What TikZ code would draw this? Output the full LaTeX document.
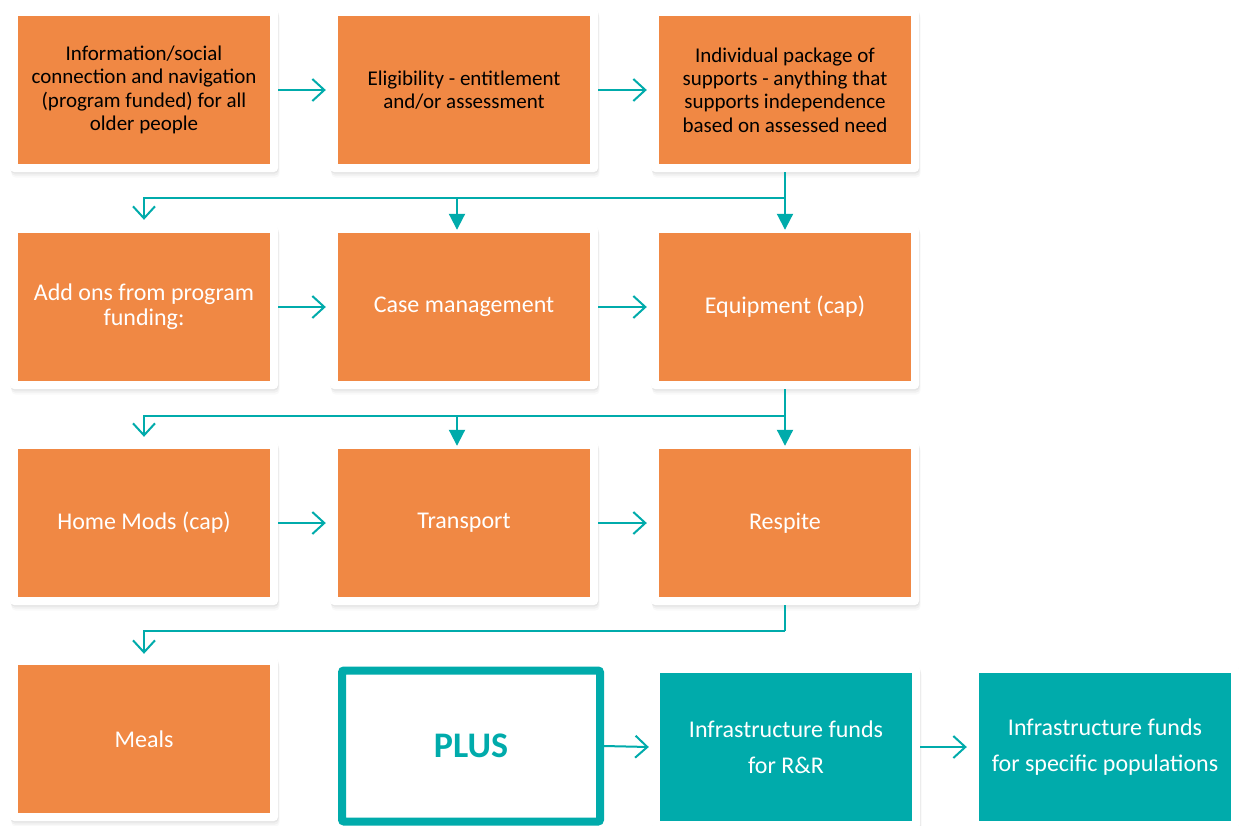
\documentclass[tikz,border=0pt]{standalone}
\usepackage{fontspec}
\setmainfont{Carlito}
\usetikzlibrary{arrows.meta,shadows}
\definecolor{boxorange}{RGB}{240,136,68}
\definecolor{boxteal}{RGB}{0,171,171}

\begin{document}
\begin{tikzpicture}[x=1pt,y=-1pt,
    soft shadow/.style={
      drop shadow={shadow xshift=.5pt,shadow yshift=-1.5pt,opacity=.10},
      drop shadow={shadow xshift=1pt,shadow yshift=-3.5pt,opacity=.07},
      drop shadow={shadow xshift=1.5pt,shadow yshift=-5.5pt,opacity=.05}},
    card/.style={rectangle,fill=white,rounded corners=4pt,inner sep=0pt,
      minimum width=268pt,minimum height=164pt,align=center,text=white,
      font=\fontsize{24}{25}\selectfont,soft shadow,
      path picture={\fill[#1,sharp corners]
        ([xshift=8pt,yshift=-8pt]path picture bounding box.north west) rectangle
        ([xshift=-8pt,yshift=8pt]path picture bounding box.south east);}},
    card/.default=boxorange,
    toprow/.style={text=black,font=\fontsize{21}{23.3}\selectfont},
    fundrow/.style={font=\fontsize{24}{36}\selectfont},
    plusbox/.style={rectangle,draw=boxteal,line width=8pt,fill=white,rounded corners=2pt,
      minimum width=258pt,minimum height=151pt,text=boxteal,
      font=\fontsize{36}{36}\selectfont\bfseries},
    nextarrow/.style={draw=boxteal,line width=2pt,
      -{Straight Barb[length=12pt,width=22pt,line width=2pt]}},
    branch/.style={draw=boxteal,line width=2pt,-{Triangle[length=16pt,width=16pt]}}]
  \useasboundingbox (0,0) rectangle (1239,825);

  % Row 1
  \node[card,toprow] (info) at (144,90) {Information/social\\connection and navigation\\(program funded) for all\\older people};
  \node[card,toprow] (elig) at (464,90) {Eligibility - entitlement\\and/or assessment};
  \node[card,toprow] (pkg) at (785,90) {Individual package of\\supports - anything that\\supports independence\\based on assessed need};
  % Row 2
  \node[card] (addons) at (144,307) {Add ons from program\\funding:};
  \node[card] (casemgmt) at (464,307) {Case management};
  \node[card] (equip) at (785,307) {Equipment (cap)};
  % Row 3
  \node[card] (homemods) at (144,523) {Home Mods (cap)};
  \node[card] (transport) at (464,523) {Transport};
  \node[card] (respite) at (785,523) {Respite};
  % Row 4
  \node[card] (meals) at (144,739) {Meals};
  \node[plusbox] (plus) at (471,746) {PLUS};
  \node[card=boxteal,fundrow] (infrarr) at (786,747) {Infrastructure funds\\for R\&R};
  \node[card=boxteal,fundrow] (infrapop) at (1105,747) {Infrastructure funds\\for specific populations};

  % Steps along each row
  \draw[nextarrow] (info.east) -- ([xshift=-4pt]elig.west);
  \draw[nextarrow] (elig.east) -- ([xshift=-4pt]pkg.west);
  \draw[nextarrow] (addons.east) -- ([xshift=-4pt]casemgmt.west);
  \draw[nextarrow] (casemgmt.east) -- ([xshift=-4pt]equip.west);
  \draw[nextarrow] (homemods.east) -- ([xshift=-4pt]transport.west);
  \draw[nextarrow] (transport.east) -- ([xshift=-4pt]respite.west);
  \draw[nextarrow] (plus.east) -- ([xshift=-3pt]infrarr.west);
  \draw[nextarrow] (infrarr.east) -- ([xshift=-4pt]infrapop.west);

  % Row 1 to row 2
  \draw[branch] (pkg.south) -- ([yshift=-5pt]equip.north);
  \draw[nextarrow] (pkg.south) ++(0,26) coordinate (j1) -| ([yshift=5pt]addons.north);
  \path (casemgmt.north) ++(-7,0) coordinate (m1);
  \draw[branch] (m1 |- j1) -- ([yshift=-5pt]m1);
  % Row 2 to row 3
  \draw[branch] (equip.south) -- ([yshift=-5pt]respite.north);
  \draw[nextarrow] (equip.south) ++(0,27) coordinate (j2) -| ([yshift=4pt]homemods.north);
  \path (transport.north) ++(-7,0) coordinate (m2);
  \draw[branch] (m2 |- j2) -- ([yshift=-5pt]m2);
  % Row 3 to row 4
  \draw[nextarrow] (respite.south) ++(0,26) coordinate (j3) -| ([yshift=3pt]meals.north);
  \draw[boxteal,line width=2pt] (respite.south) -- (j3);
\end{tikzpicture}
\end{document}
